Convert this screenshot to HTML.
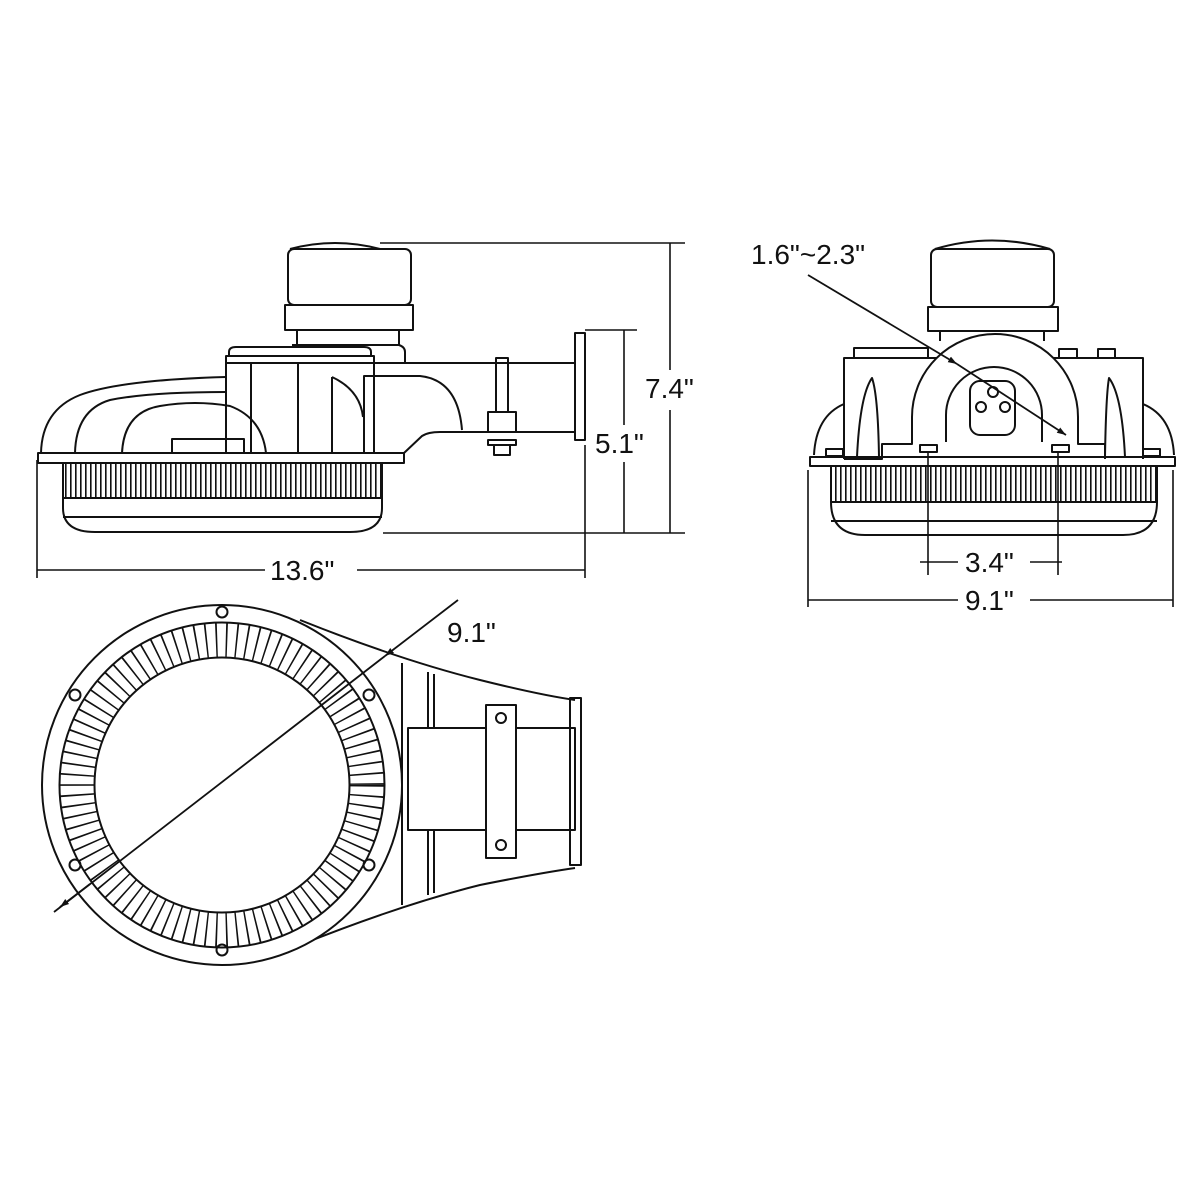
<!DOCTYPE html>
<html><head><meta charset="utf-8"><style>
html,body{margin:0;padding:0;background:#fff}
svg{display:block}
text{font-family:"Liberation Sans",Arial,sans-serif;font-size:28px;fill:#111}
</style></head><body>
<svg width="1200" height="1200" viewBox="0 0 1200 1200" xmlns="http://www.w3.org/2000/svg">
<defs>
<pattern id="fin" x="0" y="0" width="5" height="10" patternUnits="userSpaceOnUse">
<rect x="0" y="0" width="1.6" height="10" fill="#111"/>
</pattern>
<marker id="ar" viewBox="0 0 10 10" refX="10" refY="5" markerWidth="9" markerHeight="9" orient="auto-start-reverse" markerUnits="userSpaceOnUse"><path d="M0,1.5 L10,5 L0,8.5 z" fill="#111"/></marker>
</defs>
<g fill="none" stroke="#111" stroke-width="2" stroke-linejoin="round">

<!-- ===== SIDE VIEW ===== -->
<path d="M290,249 Q335,237 380,249" />
<rect x="288" y="249" width="123" height="56" rx="6"/>
<rect x="285" y="305" width="128" height="25" fill="#fff"/>
<path d="M297,330 V345 M399,330 V345"/>
<path d="M292,345 H399 Q405,347 405,352 V363"/>
<path d="M229,356 V352 Q229,347 236,347 H364 Q371,347 371,352 V356"/>
<rect x="226" y="356" width="148" height="97" fill="#fff"/>
<line x1="226" y1="363" x2="374" y2="363"/>
<line x1="251" y1="363" x2="251" y2="453"/>
<line x1="298" y1="363" x2="298" y2="453"/>
<line x1="332" y1="377" x2="332" y2="453"/>
<path d="M332,377 Q360,390 363,417"/>
<path d="M374,363 H575"/>
<path d="M364,453 V376 H420 Q458,380 462,430"/>
<path d="M404,453 L422,436 Q428,432 440,432 H575"/>
<rect x="575" y="333" width="10" height="107"/>
<rect x="496" y="358" width="12" height="54"/>
<rect x="488" y="412" width="28" height="20"/>
<rect x="488" y="440" width="28" height="5"/>
<rect x="494" y="445" width="16" height="10"/>
<path d="M41,453 Q42,410 80,395 Q120,380 226,377"/>
<path d="M75,453 Q76,410 110,400 Q150,392 226,392"/>
<path d="M122,453 Q124,412 160,406 Q195,400 230,406 Q262,418 266,453"/>
<rect x="172" y="439" width="72" height="14"/>
<rect x="38" y="453" width="366" height="10" fill="#fff"/>
<rect x="63" y="463" width="319" height="35" fill="url(#fin)" stroke="none"/>
<path d="M63,463 V498 M382,463 V498"/>
<line x1="63" y1="498" x2="382" y2="498"/>
<path d="M63,498 V508 Q63,532 95,532 H350 Q382,532 382,508 V498"/>
<line x1="63" y1="517" x2="382" y2="517"/>

<!-- side dims -->
<line x1="380" y1="243" x2="685" y2="243" stroke-width="1.6"/>
<line x1="383" y1="533" x2="685" y2="533" stroke-width="1.6"/>
<line x1="670" y1="243" x2="670" y2="370" stroke-width="1.6"/>
<line x1="670" y1="410" x2="670" y2="533" stroke-width="1.6"/>
<line x1="585" y1="330" x2="637" y2="330" stroke-width="1.6"/>
<line x1="624" y1="330" x2="624" y2="425" stroke-width="1.6"/>
<line x1="624" y1="462" x2="624" y2="533" stroke-width="1.6"/>
<line x1="585" y1="445" x2="585" y2="578" stroke-width="1.6"/>
<line x1="37" y1="460" x2="37" y2="578" stroke-width="1.6"/>
<line x1="37" y1="570" x2="265" y2="570" stroke-width="1.6"/>
<line x1="357" y1="570" x2="585" y2="570" stroke-width="1.6"/>

<!-- ===== FRONT VIEW ===== -->
<path d="M935,249 Q992,232 1050,249"/>
<rect x="931" y="249" width="123" height="58" rx="6"/>
<rect x="928" y="307" width="130" height="24"/>
<path d="M940,331 V341 M1044,331 V341"/>
<path d="M844,459 V358 H1143 V459"/>
<rect x="854" y="348" width="74" height="10"/>
<rect x="1059" y="349" width="18" height="9"/>
<rect x="1098" y="349" width="17" height="9"/>
<path d="M844,459 H882 V444 H912 V417 A83,83 0 0 1 1078,417 V444 H1105 V459" fill="#fff"/>
<path d="M946,442 V415 A48,48 0 0 1 1042,415 V442"/>
<rect x="970" y="381" width="45" height="54" rx="10"/>
<circle cx="993" cy="392" r="5"/>
<circle cx="981" cy="407" r="5"/>
<circle cx="1005" cy="407" r="5"/>
<rect x="920" y="445" width="17" height="7"/>
<rect x="1052" y="445" width="17" height="7"/>
<path d="M857,457 Q860,395 872,378 Q878,395 879,457"/>
<path d="M1105,457 Q1106,395 1109,378 Q1122,395 1125,457"/>
<path d="M814,455 Q816,416 844,404"/>
<path d="M1174,455 Q1172,416 1143,404"/>
<rect x="826" y="449" width="17" height="7"/>
<rect x="1143" y="449" width="17" height="7"/>
<rect x="810" y="457" width="365" height="9"/>
<rect x="831" y="466" width="326" height="36" fill="url(#fin)" stroke="none"/>
<line x1="831" y1="502" x2="1157" y2="502"/>
<path d="M831,466 V502 Q831,535 865,535 H1123 Q1157,535 1157,502 V466"/>
<line x1="831" y1="521" x2="1157" y2="521"/>

<!-- front dims -->
<line x1="808" y1="275" x2="957" y2="364" stroke-width="1.8" marker-end="url(#ar)"/>
<line x1="957" y1="364" x2="1066" y2="435" stroke-width="1.8" marker-end="url(#ar)"/>
<line x1="928" y1="452" x2="928" y2="575" stroke-width="1.6"/>
<line x1="1058" y1="452" x2="1058" y2="575" stroke-width="1.6"/>
<line x1="920" y1="562" x2="958" y2="562" stroke-width="1.6"/>
<line x1="1030" y1="562" x2="1062" y2="562" stroke-width="1.6"/>
<line x1="808" y1="470" x2="808" y2="607" stroke-width="1.6"/>
<line x1="1173" y1="470" x2="1173" y2="607" stroke-width="1.6"/>
<line x1="808" y1="600" x2="958" y2="600" stroke-width="1.6"/>
<line x1="1030" y1="600" x2="1173" y2="600" stroke-width="1.6"/>

<!-- ===== BOTTOM VIEW ===== -->
<path d="M300,620 Q400,660 480,680 Q540,695 575,700"/>
<path d="M300,945 Q400,905 480,885 Q540,873 575,868"/>
<line x1="402" y1="663" x2="402" y2="905"/>
<line x1="428" y1="672" x2="428" y2="895"/>
<line x1="434" y1="674" x2="434" y2="893"/>
<rect x="408" y="728" width="167" height="102" fill="#fff"/>
<rect x="486" y="705" width="30" height="153" fill="#fff"/>
<circle cx="501" cy="718" r="5"/>
<circle cx="501" cy="845" r="5"/>
<rect x="570" y="698" width="11" height="167"/>
<ellipse cx="222" cy="785" rx="180" ry="180" fill="#fff"/>
<circle cx="222" cy="785" r="145" stroke-width="35" stroke-dasharray="1.6 8.5"/>
<circle cx="222" cy="785" r="162.5"/>
<circle cx="222" cy="785" r="127.5"/>
<circle cx="222" cy="612" r="5.5"/>
<circle cx="222" cy="950" r="5.5"/>
<circle cx="75" cy="695" r="5.5"/>
<circle cx="369" cy="695" r="5.5"/>
<circle cx="75" cy="865" r="5.5"/>
<circle cx="369" cy="865" r="5.5"/>
<line x1="458" y1="600" x2="385" y2="656" stroke-width="1.8" marker-end="url(#ar)"/>
<line x1="385" y1="656" x2="54" y2="912" stroke-width="1.8"/>
<line x1="90" y1="884" x2="60" y2="907" stroke-width="1.8" marker-end="url(#ar)"/>
</g>

<text x="751" y="264">1.6"~2.3"</text>
<text x="645" y="398">7.4"</text>
<text x="595" y="453">5.1"</text>
<text x="270" y="580">13.6"</text>
<text x="965" y="572">3.4"</text>
<text x="965" y="610">9.1"</text>
<text x="447" y="642">9.1"</text>
</svg>
</body></html>
